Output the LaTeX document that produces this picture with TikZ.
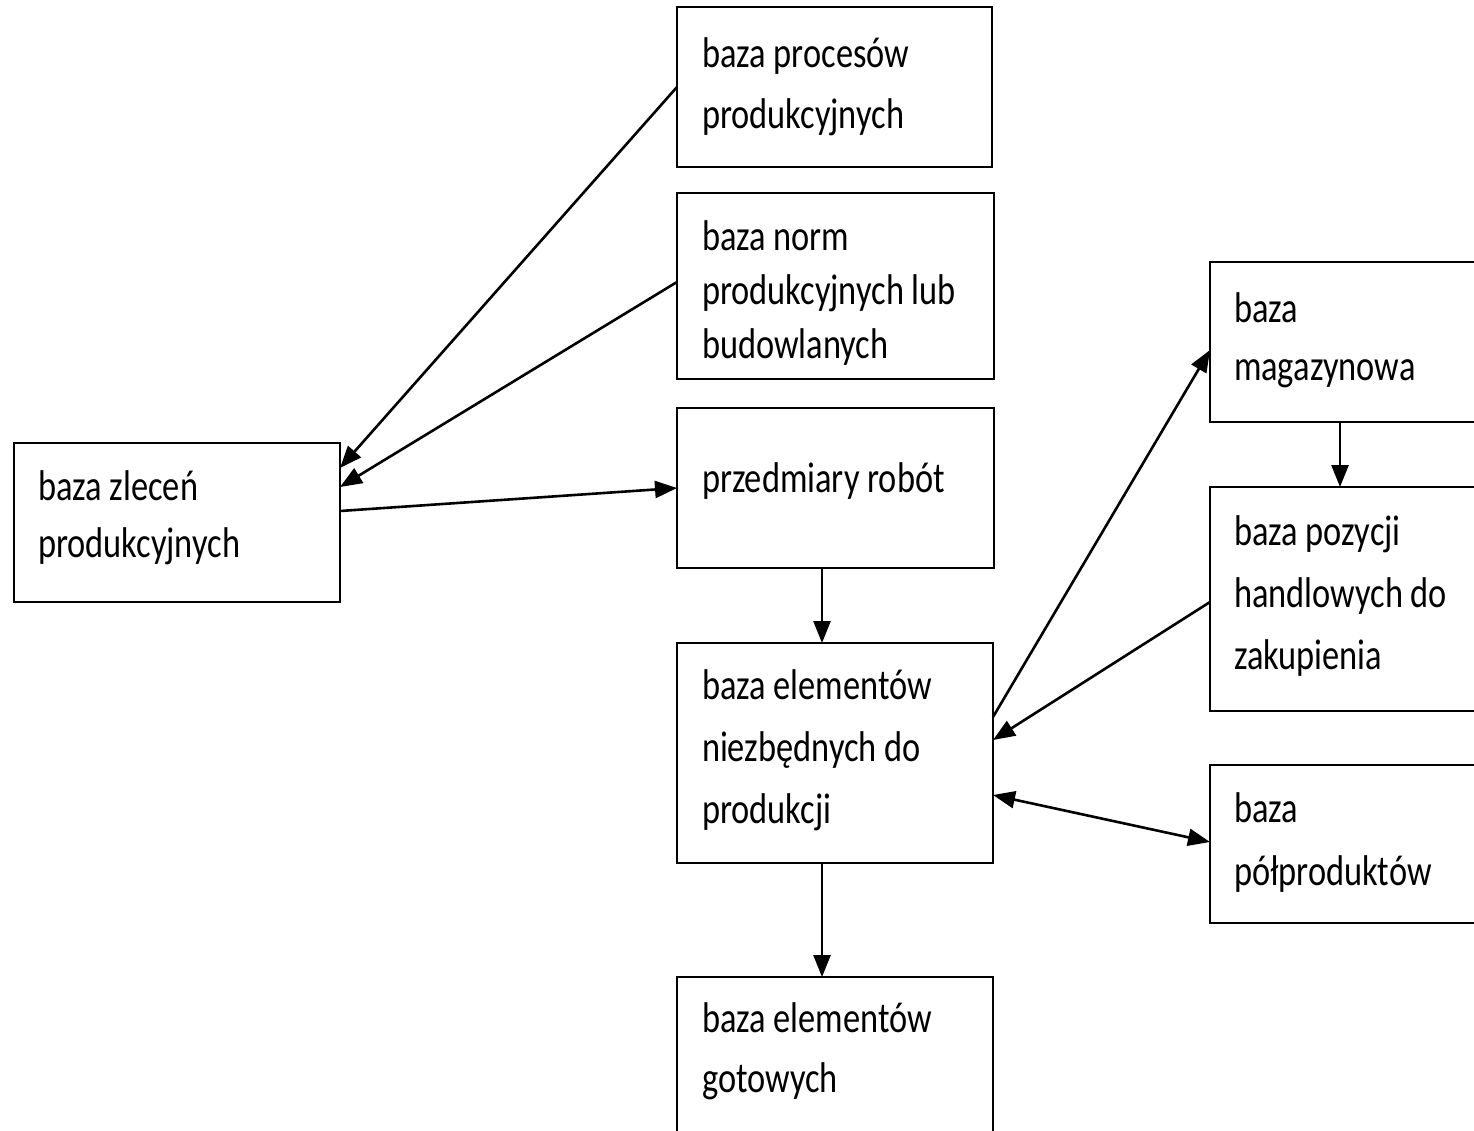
\documentclass[tikz,border=0pt]{standalone}
\usepackage{fontspec}
\setmainfont{Carlito}[FakeStretch=0.8]
\usetikzlibrary{arrows.meta}

\begin{document}
\begin{tikzpicture}[x=1pt, y=-1pt,
  box/.style={draw=black, line width=2.4pt, rectangle, inner sep=0pt, outer sep=0pt},
  txt/.style={anchor=base west, align=left, inner sep=0pt, outer sep=0pt,
              font=\fontsize{43}{61}\selectfont},
  conn/.style={draw=black, line width=2.6pt, -{Triangle[length=22pt,width=17pt]}},
  both/.style={draw=black, line width=2.6pt, {Triangle[length=22pt,width=17pt]}-{Triangle[length=22pt,width=17pt]}}
]
\useasboundingbox (0,0) rectangle (1474,1130);
\fill[white] (0,0) rectangle (1474,1130);
\clip (0,0) rectangle (1474,1130);

% boxes
\node[box, minimum width=315pt, minimum height=160pt] (proc)  at (834.5,87)   {};
\node[box, minimum width=317pt, minimum height=186pt] (norm)  at (835.5,286)  {};
\node[box, minimum width=317pt, minimum height=160pt] (przed) at (835.5,488)  {};
\node[box, minimum width=326pt, minimum height=159pt] (zlec)  at (177,522.5)  {};
\node[box, minimum width=316pt, minimum height=220pt] (elem)  at (835,753)    {};
\node[box, minimum width=316pt, minimum height=163pt] (got)   at (835,1058.5) {};
\node[box, minimum width=270pt, minimum height=160pt] (mag)   at (1345,342)   {};
\node[box, minimum width=270pt, minimum height=224pt] (poz)   at (1345,599)   {};
\node[box, minimum width=270pt, minimum height=158pt] (polp)  at (1345,844)   {};

% labels (anchored at the baseline of their last line)
\node[txt] (procT)  at ([xshift=25pt,yshift=-121pt]proc.north west)  {baza procesów\\produkcyjnych};
\node[txt, font=\fontsize{43}{54}\selectfont] (normT) at ([xshift=25pt,yshift=-165pt]norm.north west) {baza norm\\produkcyjnych lub\\budowlanych};
\node[txt] (przedT) at ([xshift=25pt,yshift=-84pt]przed.north west) {przedmiary robót};
\node[txt, font=\fontsize{43}{57}\selectfont] (zlecT) at ([xshift=24pt,yshift=-114pt]zlec.north west) {baza zleceń\\produkcyjnych};
\node[txt, font=\fontsize{43}{62}\selectfont] (elemT) at ([xshift=25pt,yshift=-180pt]elem.north west) {baza elementów\\niezbędnych do\\produkcji};
\node[txt, font=\fontsize{43}{60}\selectfont] (gotT) at ([xshift=25pt,yshift=-115pt]got.north west) {baza elementów\\gotowych};
\node[txt, font=\fontsize{43}{58}\selectfont] (magT) at ([xshift=24pt,yshift=-118pt]mag.north west) {baza\\magazynowa};
\node[txt, font=\fontsize{43}{62}\selectfont] (pozT) at ([xshift=24pt,yshift=-182pt]poz.north west) {baza pozycji\\handlowych do\\zakupienia};
\node[txt, font=\fontsize{43}{63}\selectfont] (polpT) at ([xshift=24pt,yshift=-120pt]polp.north west) {baza\\półproduktów};

% connectors
\draw[conn] (proc.west) -- ([yshift=54.5pt]zlec.east);
\draw[conn] ([yshift=4pt]norm.west) -- ([yshift=35.5pt]zlec.east);
\draw[conn] ([yshift=11.5pt]zlec.east) -- (przed.west);
\draw[conn] ([xshift=-13.5pt]przed.south) -- ([xshift=-13pt]elem.north);
\draw[conn] ([xshift=-13pt]elem.south) -- ([xshift=-13pt]got.north);
\draw[conn] ([yshift=36pt]elem.east) -- ([yshift=-8pt]mag.west);
\draw[conn] ([xshift=-5pt]mag.south) -- ([xshift=-5pt]poz.north);
\draw[conn] ([yshift=-3pt]poz.west) -- ([yshift=13pt]elem.east);
\draw[both] ([yshift=-42pt]elem.east) -- ([yshift=2pt]polp.west);
\end{tikzpicture}
\end{document}
